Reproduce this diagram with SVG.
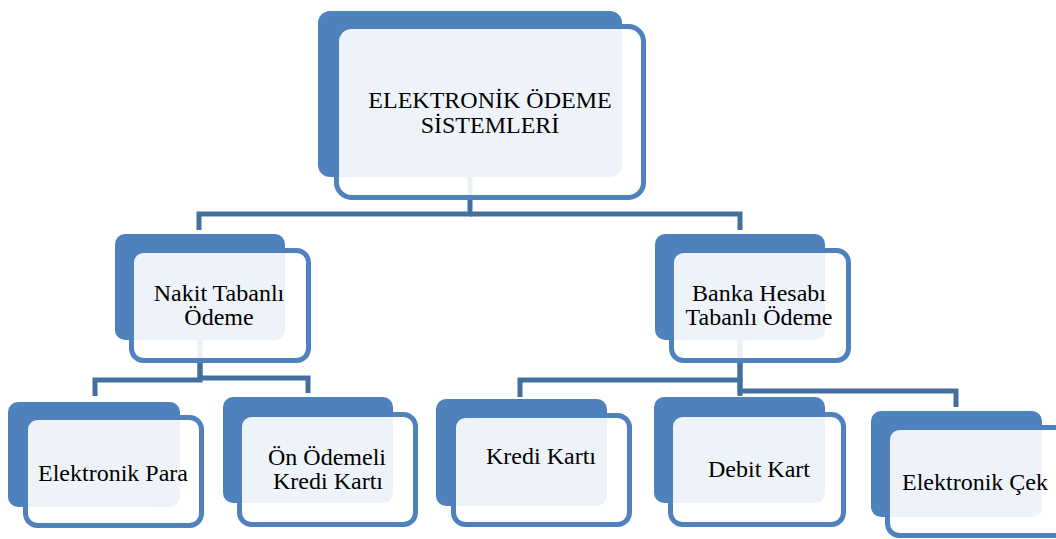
<svg xmlns="http://www.w3.org/2000/svg" width="1056" height="539" viewBox="0 0 1056 539">
  <style>
    .back { fill: #4F81BD; }
    .front { fill: #FFFFFF; fill-opacity: 0.9; stroke: #4F81BD; stroke-width: 5; }
    .conn { fill: none; stroke: #44709F; stroke-width: 5; stroke-linejoin: miter; }
    .label { font-family: 'Liberation Serif', 'DejaVu Serif', serif; font-size: 24px; fill: #000; text-anchor: middle; }
  </style>
  <rect width="1056" height="539" fill="#FFFFFF"/>

  <!-- connectors (drawn beneath the cards) -->
  <g id="connectors">
    <path class="conn" d="M470,170 V214 H199 V230"/>
    <path class="conn" d="M470,214 H740 V230"/>
    <path class="conn" d="M200,335 V380 H95 V396"/>
    <path class="conn" d="M200,335 V378 H308 V393"/>
    <path class="conn" d="M740,335 V380 H520 V397"/>
    <path class="conn" d="M740,335 V396"/>
    <path class="conn" d="M740,380 V391 H956 V407"/>
  </g>

  <g id="node-root">
    <rect class="back" x="318" y="11" width="304" height="166" rx="12"/>
    <rect class="front" x="336.5" y="26.5" width="307" height="171" rx="15"/>
    <text class="label" font-family="Liberation Serif, serif" x="490" y="108">ELEKTRONİK ÖDEME</text>
    <text class="label" font-family="Liberation Serif, serif" x="490" y="133">SİSTEMLERİ</text>
  </g>

  <g id="node-nakit">
    <rect class="back" x="115" y="234" width="170" height="106" rx="10"/>
    <rect class="front" x="131.5" y="250.5" width="177" height="110" rx="12"/>
    <text class="label" x="219" y="301">Nakit Tabanlı</text>
    <text class="label" x="219" y="325">Ödeme</text>
  </g>

  <g id="node-banka">
    <rect class="back" x="655" y="234" width="170" height="106" rx="10"/>
    <rect class="front" x="671.5" y="250.5" width="177" height="110" rx="12"/>
    <text class="label" x="759" y="301">Banka Hesabı</text>
    <text class="label" x="759" y="325">Tabanlı Ödeme</text>
  </g>

  <g id="node-elektronik-para">
    <rect class="back" x="8" y="402" width="172" height="105" rx="10"/>
    <rect class="front" x="25.5" y="417.5" width="176" height="108" rx="12"/>
    <text class="label" x="113" y="481">Elektronik Para</text>
  </g>

  <g id="node-on-odemeli">
    <rect class="back" x="223" y="397" width="170" height="106" rx="10"/>
    <rect class="front" x="239.5" y="414.5" width="176" height="110" rx="12"/>
    <text class="label" x="327" y="465">Ön Ödemeli</text>
    <text class="label" x="328" y="489">Kredi Kartı</text>
  </g>

  <g id="node-kredi-karti">
    <rect class="back" x="436" y="399" width="171" height="107" rx="10"/>
    <rect class="front" x="453.5" y="415.5" width="176" height="109" rx="12"/>
    <text class="label" x="541" y="464">Kredi Kartı</text>
  </g>

  <g id="node-debit-kart">
    <rect class="back" x="654" y="397" width="171" height="106" rx="10"/>
    <rect class="front" x="670.5" y="414.5" width="173" height="110" rx="12"/>
    <text class="label" x="759" y="477">Debit Kart</text>
  </g>

  <g id="node-elektronik-cek">
    <rect class="back" x="871" y="411" width="171" height="106" rx="10"/>
    <rect class="front" x="887.5" y="427.5" width="180" height="108" rx="12"/>
    <text class="label" x="975" y="490">Elektronik Çek</text>
  </g>
</svg>
